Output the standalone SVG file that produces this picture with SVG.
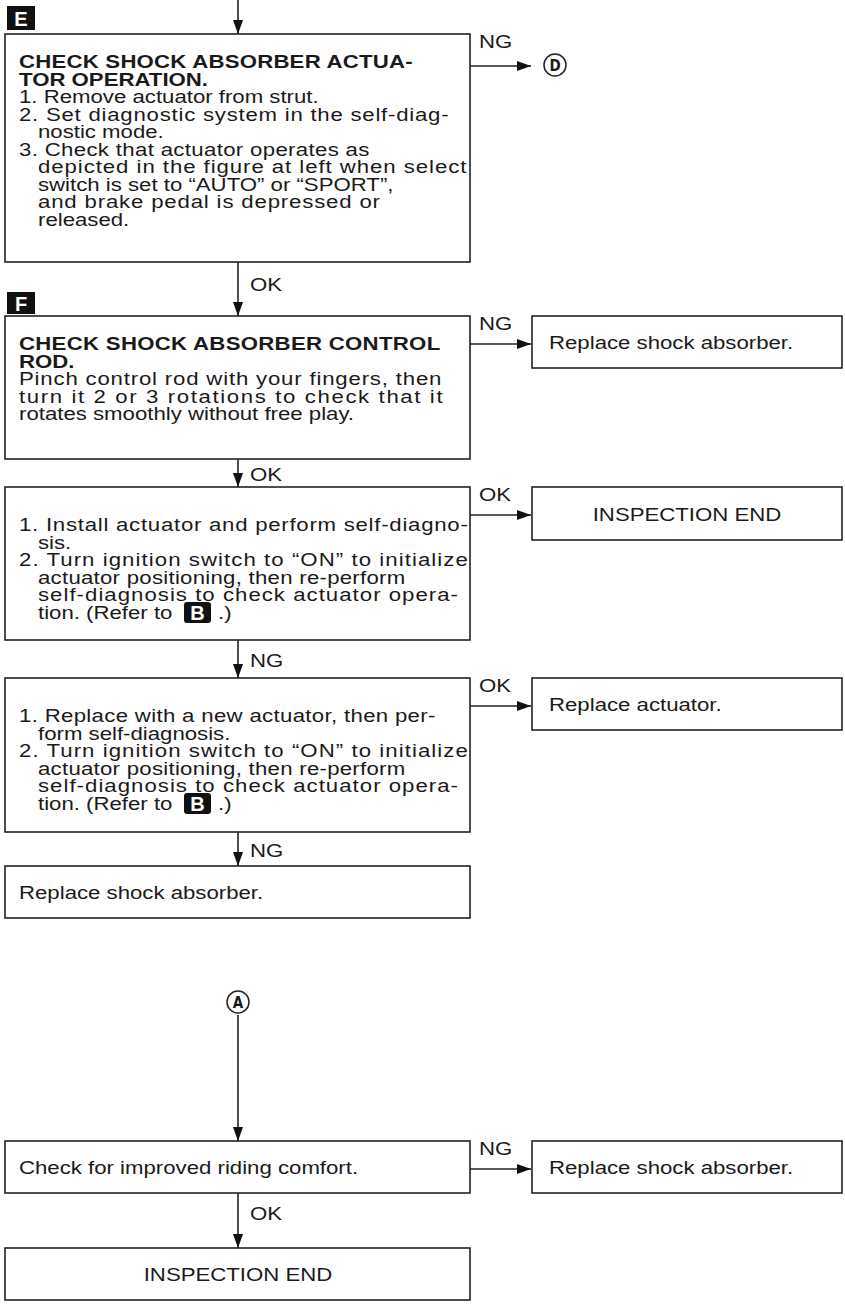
<svg xmlns="http://www.w3.org/2000/svg" width="845" height="1306" viewBox="0 0 845 1306">
<style>
.t{font-family:"Liberation Sans",Arial,sans-serif;font-size:18.5px;fill:#1a1a1a}
.b{font-weight:bold}
.m{text-anchor:middle}
.box{fill:#fff;stroke:#222;stroke-width:1.6}
.ln{stroke:#222;stroke-width:1.6;fill:none}
.tag{fill:#111}
.tagt{font-family:"Liberation Sans",Arial,sans-serif;font-size:20px;font-weight:bold;fill:#fff;text-anchor:middle}
.circ{fill:#fff;stroke:#222;stroke-width:1.5}
.ct{font-family:"DejaVu Sans Condensed","Liberation Sans",sans-serif;font-size:15px;font-weight:bold;fill:#1a1a1a;text-anchor:middle}
</style>
<defs>
<marker id="ah" viewBox="0 0 14 10" refX="14" refY="5" markerWidth="14" markerHeight="10" markerUnits="userSpaceOnUse" orient="auto"><path d="M0,0 L14,5 L0,10 z" fill="#111"/></marker>
</defs>
<rect width="845" height="1306" fill="#fff"/>

<g id="connectors">
<line class="ln" x1="238" y1="0" x2="238" y2="34" marker-end="url(#ah)"/>
<line class="ln" x1="470" y1="66" x2="531" y2="66" marker-end="url(#ah)"/>
<text class="t" transform="translate(479,48) scale(1.2,1)">NG</text>
<line class="ln" x1="238" y1="262" x2="238" y2="316" marker-end="url(#ah)"/>
<text class="t" transform="translate(250,291) scale(1.2,1)">OK</text>
<line class="ln" x1="470" y1="344" x2="531" y2="344" marker-end="url(#ah)"/>
<text class="t" transform="translate(479,330) scale(1.2,1)">NG</text>
<line class="ln" x1="238" y1="459" x2="238" y2="487" marker-end="url(#ah)"/>
<text class="t" transform="translate(250,481) scale(1.2,1)">OK</text>
<line class="ln" x1="470" y1="515" x2="531" y2="515" marker-end="url(#ah)"/>
<text class="t" transform="translate(479,501) scale(1.2,1)">OK</text>
<line class="ln" x1="238" y1="640" x2="238" y2="678" marker-end="url(#ah)"/>
<text class="t" transform="translate(250,667) scale(1.2,1)">NG</text>
<line class="ln" x1="470" y1="706" x2="531" y2="706" marker-end="url(#ah)"/>
<text class="t" transform="translate(479,692) scale(1.2,1)">OK</text>
<line class="ln" x1="238" y1="832" x2="238" y2="866" marker-end="url(#ah)"/>
<text class="t" transform="translate(250,857) scale(1.2,1)">NG</text>
<line class="ln" x1="238" y1="1015" x2="238" y2="1141" marker-end="url(#ah)"/>
<line class="ln" x1="470" y1="1169" x2="531" y2="1169" marker-end="url(#ah)"/>
<text class="t" transform="translate(479,1155) scale(1.2,1)">NG</text>
<line class="ln" x1="238" y1="1193" x2="238" y2="1248" marker-end="url(#ah)"/>
<text class="t" transform="translate(250,1220) scale(1.2,1)">OK</text>
</g>

<g id="refD">
<circle class="circ" cx="555" cy="65" r="11"/>
<text class="ct" x="555" y="70.5">D</text>
</g>

<g id="tagE">
<rect class="tag" x="7" y="6" width="28" height="24"/>
<text class="tagt" x="21" y="25.5">E</text>
</g>

<g id="boxE">
<rect class="box" x="5" y="34" width="465" height="228"/>
<text class="t b" transform="translate(19,68) scale(1.2,1)" textLength="328">CHECK SHOCK ABSORBER ACTUA-</text>
<text class="t b" transform="translate(19,85.5) scale(1.2,1)">TOR OPERATION.</text>
<text class="t" transform="translate(19,103) scale(1.2,1)">1. Remove actuator from strut.</text>
<text class="t" transform="translate(19,120.5) scale(1.2,1)" textLength="358">2. Set diagnostic system in the self-diag-</text>
<text class="t" transform="translate(38,138) scale(1.2,1)">nostic mode.</text>
<text class="t" transform="translate(19,155.5) scale(1.2,1)" textLength="292">3. Check that actuator operates as</text>
<text class="t" transform="translate(38,173) scale(1.2,1)" textLength="357">depicted in the figure at left when select</text>
<text class="t" transform="translate(38,190.5) scale(1.2,1)">switch is set to “AUTO” or “SPORT”,</text>
<text class="t" transform="translate(38,208) scale(1.2,1)" textLength="285">and brake pedal is depressed or</text>
<text class="t" transform="translate(38,225.5) scale(1.2,1)">released.</text>
</g>

<g id="tagF">
<rect class="tag" x="7" y="292" width="28" height="22"/>
<text class="tagt" x="21" y="310.5">F</text>
</g>

<g id="boxF">
<rect class="box" x="5" y="316" width="465" height="143"/>
<text class="t b" transform="translate(19,350) scale(1.2,1)" textLength="351">CHECK SHOCK ABSORBER CONTROL</text>
<text class="t b" transform="translate(19,367.5) scale(1.2,1)">ROD.</text>
<text class="t" transform="translate(19,385) scale(1.2,1)" textLength="352">Pinch control rod with your fingers, then</text>
<text class="t" transform="translate(19,402.5) scale(1.2,1)" textLength="353">turn it 2 or 3 rotations to check that it</text>
<text class="t" transform="translate(19,420) scale(1.2,1)">rotates smoothly without free play.</text>
</g>

<g id="boxReplaceShock1">
<rect class="box" x="532" y="316" width="310" height="52"/>
<text class="t" transform="translate(549,349) scale(1.2,1)">Replace shock absorber.</text>
</g>

<g id="boxInstall">
<rect class="box" x="5" y="487" width="465" height="153"/>
<text class="t" transform="translate(19,531) scale(1.2,1)" textLength="374">1. Install actuator and perform self-diagno-</text>
<text class="t" transform="translate(38,548.5) scale(1.2,1)">sis.</text>
<text class="t" transform="translate(19,566) scale(1.2,1)" textLength="374">2. Turn ignition switch to “ON” to initialize</text>
<text class="t" transform="translate(38,583.5) scale(1.2,1)" textLength="306">actuator positioning, then re-perform</text>
<text class="t" transform="translate(38,601) scale(1.2,1)" textLength="350">self-diagnosis to check actuator opera-</text>
<text class="t" transform="translate(38,618.5) scale(1.2,1)">tion. (Refer to</text>
<rect class="tag" x="184" y="602" width="27" height="21" rx="3"/>
<text class="tagt" x="197.5" y="619.5">B</text>
<text class="t" transform="translate(218,618.5) scale(1.2,1)">.)</text>
</g>

<g id="boxInspEnd1">
<rect class="box" x="532" y="487" width="310" height="53"/>
<text class="t m" transform="translate(687,521) scale(1.2,1)">INSPECTION END</text>
</g>

<g id="boxReplaceAct">
<rect class="box" x="5" y="678" width="465" height="154"/>
<text class="t" transform="translate(19,722) scale(1.2,1)" textLength="347">1. Replace with a new actuator, then per-</text>
<text class="t" transform="translate(38,739.5) scale(1.2,1)">form self-diagnosis.</text>
<text class="t" transform="translate(19,757) scale(1.2,1)" textLength="374">2. Turn ignition switch to “ON” to initialize</text>
<text class="t" transform="translate(38,774.5) scale(1.2,1)" textLength="306">actuator positioning, then re-perform</text>
<text class="t" transform="translate(38,792) scale(1.2,1)" textLength="350">self-diagnosis to check actuator opera-</text>
<text class="t" transform="translate(38,809.5) scale(1.2,1)">tion. (Refer to</text>
<rect class="tag" x="184" y="793" width="27" height="21" rx="3"/>
<text class="tagt" x="197.5" y="810.5">B</text>
<text class="t" transform="translate(218,809.5) scale(1.2,1)">.)</text>
</g>

<g id="boxReplaceActuator">
<rect class="box" x="532" y="678" width="310" height="52"/>
<text class="t" transform="translate(549,711) scale(1.2,1)">Replace actuator.</text>
</g>

<g id="boxReplaceShock2">
<rect class="box" x="5" y="866" width="465" height="52"/>
<text class="t" transform="translate(19,899) scale(1.2,1)">Replace shock absorber.</text>
</g>

<g id="refA">
<circle class="circ" cx="238" cy="1002" r="11"/>
<text class="ct" x="238" y="1007.5">A</text>
</g>

<g id="boxRidingComfort">
<rect class="box" x="5" y="1141" width="465" height="52"/>
<text class="t" transform="translate(19,1174) scale(1.2,1)">Check for improved riding comfort.</text>
</g>

<g id="boxReplaceShock3">
<rect class="box" x="532" y="1141" width="310" height="52"/>
<text class="t" transform="translate(549,1174) scale(1.2,1)">Replace shock absorber.</text>
</g>

<g id="boxInspEnd2">
<rect class="box" x="5" y="1248" width="465" height="52"/>
<text class="t m" transform="translate(238,1281) scale(1.2,1)">INSPECTION END</text>
</g>
</svg>
